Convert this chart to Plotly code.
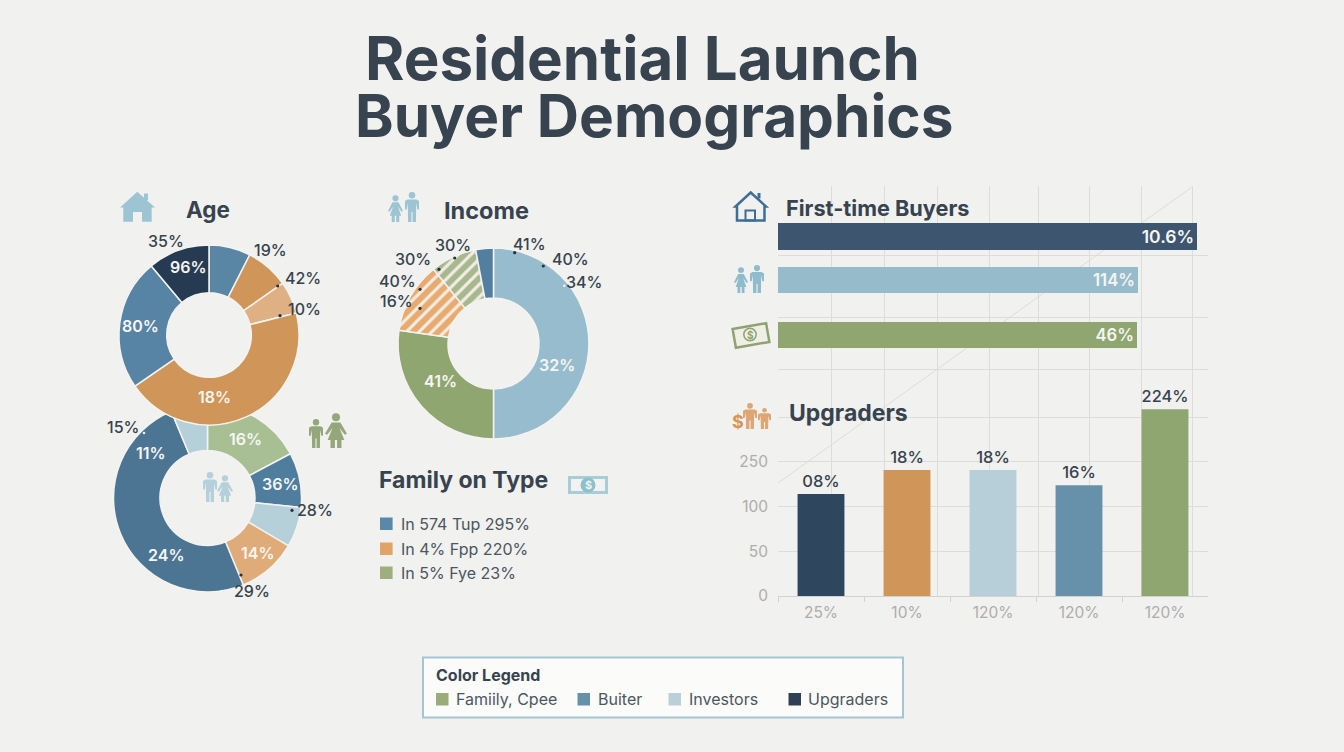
import math
import plotly.graph_objects as go

W, H = 1344, 752

# ---------- data ----------
title_lines = ["Residential Launch", "Buyer Demographics"]

age_shares = [7.5, 7.8, 5.8, 44.4, 23.6, 11.1]
family_shares = [17.2, 9.4, 6.9, 10.3, 49.9, 6.3]
income_shares = [50.0, 27.2, 12.0, 7.8, 3.0]

age_inside_labels = ["96%", "80%", "18%"]
age_outside_labels = ["35%", "19%", "42%", "10%"]
family_inside_labels = ["16%", "36%", "14%", "24%", "11%"]
family_outside_labels = ["15%", "28%", "29%"]
income_inside_labels = ["32%", "41%"]
income_outside_labels = ["41%", "40%", "34%", "30%", "30%", "40%", "16%"]

buyer_categories = ["First-time Buyers", "Family", "Income"]
buyer_values = [419, 360, 359]
buyer_labels = ["10.6%", "114%", "46%"]

upgrader_categories = ["A", "B", "C", "D", "E"]
upgrader_tick_labels = ["25%", "10%", "120%", "120%", "120%"]
upgrader_values = [114, 141, 141, 124, 209]
upgrader_labels = ["08%", "18%", "18%", "16%", "224%"]
y_tick_values = [0, 50, 100, 150, 200, 253, 312, 381]
y_tick_labels = ["0", "50", "100", "250", "", "", "", ""]

family_type_entries = ["In 574 Tup 295%", "In 4% Fpp 220%", "In 5% Fye 23%"]
legend_title = "Color Legend"
legend_entries = ["Famiily, Cpee", "Buiter", "Investors", "Upgraders"]

# ---------- style ----------
INK = "#37434e"
BG = "#f1f1ef"
BOLD = "Inter, Roboto, sans-serif"
BODY = "Inter, Roboto, sans-serif"
SLICE_LINE = "#f3f3f1"

fx = lambda p: p / W
fy = lambda p: 1 - p / H


def pie_domain(cx, cy, r):
    return dict(x=[fx(cx - r), fx(cx + r)], y=[fy(cy + r), fy(cy - r)])


fig = go.Figure()

# second (family) ring sits behind the age ring
fig.add_trace(go.Pie(
    values=family_shares, sort=False, direction="clockwise", rotation=0,
    hole=0.505, textinfo="none", showlegend=False, domain=pie_domain(207.5, 498, 94),
    marker=dict(colors=["#a8bf94", "#4f7d9e", "#b6d0da", "#dfab78", "#4c7594", "#b6d0da"],
                line=dict(color=SLICE_LINE, width=1.5)),
))
fig.add_trace(go.Pie(
    values=age_shares, sort=False, direction="clockwise", rotation=0,
    hole=0.47, textinfo="none", showlegend=False, domain=pie_domain(209, 335, 90),
    marker=dict(colors=["#5a86a5", "#cf9559", "#dfb083", "#cf9559", "#5784a4", "#263b52"],
                line=dict(color=SLICE_LINE, width=1.5)),
))
income_colors = ["#97bccd", "#90a671", "#e8aa6f", "#a7b88f", "#527f9f"]
fig.add_trace(go.Pie(
    values=income_shares, sort=False, direction="clockwise", rotation=0,
    hole=0.476, textinfo="none", showlegend=False, domain=pie_domain(493.5, 343.5, 95.5),
    marker=dict(colors=income_colors,
                line=dict(color=SLICE_LINE, width=1.5),
                pattern=dict(shape=["", "", "/", "/", ""], bgcolor=income_colors,
                             fgcolor=["#f3ece2"] * 5, size=9, solidity=0.36)),
))

# upgraders column chart
fig.add_trace(go.Bar(
    x=upgrader_categories, y=upgrader_values, text=upgrader_labels, width=0.545,
    textposition="outside", cliponaxis=False, textangle=0, showlegend=False,
    textfont=dict(family=BOLD, size=16.5, color=INK, weight=500),
    marker=dict(color=["#2f465f", "#cf9559", "#b7cfd8", "#6790ab", "#90a671"], line=dict(width=0)),
))
# empty trace gives the vertical grid axis its span over the whole panel
fig.add_trace(go.Scatter(x=[], y=[], xaxis="x2", yaxis="y", showlegend=False))

# buyer bars, one thin subplot each
buyer_colors = ["#3d556f", "#96bccc", "#90a671"]
for i, axis_id in enumerate(["y2", "y3", "y4"]):
    fig.add_trace(go.Bar(
        x=[buyer_values[i]], y=[buyer_categories[i]], orientation="h", width=1,
        text=[buyer_labels[i]], textposition="inside", insidetextanchor="end", textangle=0,
        textfont=dict(family=BOLD, size=17.5, color="#f5f5f2", weight=600),
        marker=dict(color=buyer_colors[i], line=dict(width=0)),
        xaxis="x3", yaxis=axis_id, showlegend=False,
    ))

plot_x = [fx(778), fx(1208)]
plot_y = [fy(596), fy(186)]
grid = "#dcdcda"
hidden = dict(visible=False, fixedrange=True)


def bar_axis(top, bottom):
    return dict(domain=[fy(bottom), fy(top)], anchor="x3", range=[-0.5, 0.5], **hidden)


fig.update_layout(
    width=W, height=H, margin=dict(l=0, r=0, t=0, b=0, pad=0, autoexpand=False), autosize=False,
    paper_bgcolor=BG, plot_bgcolor="rgba(0,0,0,0)", bargap=0.4,
    font=dict(family=BODY, color=INK),
    xaxis=dict(domain=plot_x, anchor="y", type="category", categoryorder="array",
               categoryarray=upgrader_categories, tickmode="array",
               tickvals=upgrader_categories, ticktext=upgrader_tick_labels, tickson="boundaries",
               ticks="outside", ticklen=5, tickcolor="#d2d2d0", showline=True, linecolor="#d2d2d0",
               showgrid=False, ticklabelstandoff=2, tickfont=dict(family=BODY, size=15.5, color="#adadab")),
    yaxis=dict(domain=plot_y, anchor="x", range=[0, 458.6], tickmode="array",
               tickvals=y_tick_values, ticktext=y_tick_labels, gridcolor=grid, zeroline=False,
               ticks="", ticklabelstandoff=9, tickfont=dict(family=BODY, size=15.5, color="#adadab")),
    xaxis2=dict(overlaying="x", anchor="y", range=[0, 430], tickmode="array",
                tickvals=[0, 53, 106, 159, 211, 260, 311, 363, 414],
                showticklabels=False, ticks="", gridcolor=grid, zeroline=False),
    xaxis3=dict(domain=plot_x, anchor="y2", range=[0, 430], **hidden),
    yaxis2=bar_axis(223, 250),
    yaxis3=bar_axis(267, 293),
    yaxis4=bar_axis(322, 348),
)

# ---------- decoration helpers ----------
shapes = []
annotations = []


def poly(points, fill=None, line=None, width=0, layer="above"):
    d = "M" + " L".join(f"{fx(x):.5f},{fy(y):.5f}" for x, y in points) + " Z"
    shapes.append(dict(type="path", xref="paper", yref="paper", path=d, layer=layer,
                       fillcolor=fill or "rgba(0,0,0,0)",
                       line=dict(color=line or "rgba(0,0,0,0)", width=width)))


def rect(x0, y0, x1, y1, fill, line=None, width=0, layer="above"):
    shapes.append(dict(type="rect", xref="paper", yref="paper", x0=fx(x0), x1=fx(x1),
                       y0=fy(y1), y1=fy(y0), fillcolor=fill, layer=layer,
                       line=dict(color=line or "rgba(0,0,0,0)", width=width)))


def dot(x, y, r, fill, line=None, width=0):
    shapes.append(dict(type="circle", xref="paper", yref="paper", x0=fx(x - r), x1=fx(x + r),
                       y0=fy(y + r), y1=fy(y - r), fillcolor=fill, layer="above",
                       line=dict(color=line or "rgba(0,0,0,0)", width=width)))


def text(x, y, s, size, color=INK, family=BOLD, weight=400, anchor="center"):
    annotations.append(dict(xref="paper", yref="paper", x=fx(x), y=fy(y), text=s, showarrow=False,
                            xanchor=anchor, yanchor="middle", borderpad=0,
                            font=dict(family=family, size=size, color=color, weight=weight)))


def man(x0, x1, top, bottom, color):
    w, h = x1 - x0, bottom - top
    cx = (x0 + x1) / 2
    dot(cx, top + h * 0.11, h * 0.11, color)
    s = top + h * 0.25
    poly([(x0 + w * .18, s), (x1 - w * .18, s), (x1, s + h * .05), (x1, s + h * .33),
          (x1 - w * .12, s + h * .33), (x1 - w * .2, s + h * .12), (x1 - w * .22, bottom),
          (cx + w * .04, bottom), (cx + w * .04, s + h * .42), (cx - w * .04, s + h * .42),
          (cx - w * .04, bottom), (x0 + w * .22, bottom), (x0 + w * .2, s + h * .12),
          (x0 + w * .12, s + h * .33), (x0, s + h * .33), (x0, s + h * .05)], fill=color)


def woman(x0, x1, top, bottom, color):
    w, h = x1 - x0, bottom - top
    cx = (x0 + x1) / 2
    dot(cx, top + h * 0.12, h * 0.115, color)
    s = top + h * 0.27
    poly([(cx - w * .2, s), (cx + w * .2, s), (x1, s + h * .32), (x1 - w * .1, s + h * .35),
          (cx + w * .16, s + h * .16), (x1 - w * .12, s + h * .5), (cx + w * .25, s + h * .5),
          (cx + w * .25, bottom), (cx + w * .05, bottom), (cx + w * .05, s + h * .5),
          (cx - w * .05, s + h * .5), (cx - w * .05, bottom), (cx - w * .25, bottom),
          (cx - w * .25, s + h * .5), (x0 + w * .12, s + h * .5), (cx - w * .16, s + h * .16),
          (x0 + w * .1, s + h * .35), (x0, s + h * .32)], fill=color)


def rotated(cx, cy, w, h, deg):
    a = math.radians(deg)
    pts = [(-w / 2, -h / 2), (w / 2, -h / 2), (w / 2, h / 2), (-w / 2, h / 2)]
    return [(cx + x * math.cos(a) - y * math.sin(a), cy + x * math.sin(a) + y * math.cos(a)) for x, y in pts]


# ---------- background line ----------
shapes.append(dict(type="line", xref="paper", yref="paper", x0=fx(778), y0=fy(483), x1=fx(1192), y1=fy(187),
                   layer="below", line=dict(color="#dddcd9", width=1)))

# ---------- titles ----------
text(642, 58, title_lines[0], 60, family=BOLD, weight=700)
text(654, 115, title_lines[1], 58.5, family=BOLD, weight=700)
text(208, 209, "Age", 22.5, weight=700)
text(486, 210, "Income", 23.5, weight=700)
text(378, 480, "Family on Type", 23, weight=700, anchor="left")
text(785, 208, "First-time Buyers", 21.7, weight=700, anchor="left")
text(788, 413, "Upgraders", 23, weight=700, anchor="left")

# ---------- ring labels ----------
inside_pos = {
    "age": [(188, 267), (140, 326), (215, 397)],
    "family": [(246, 439), (280, 484), (258, 553), (166, 555), (151, 453)],
    "income": [(557, 365), (440, 381)],
}
outside_pos = {
    "age": [(166, 241), (270, 250), (303, 278), (304, 309)],
    "family": [(123, 427), (315, 510), (252, 591)],
    "income": [(529, 244), (570, 259), (584, 282), (453, 245), (413, 259), (397, 281), (396, 301)],
}
for key, labels in [("age", age_inside_labels), ("family", family_inside_labels), ("income", income_inside_labels)]:
    for (x, y), s in zip(inside_pos[key], labels):
        text(x, y, s, 16, color="#f6f6f3", weight=600)
for key, labels in [("age", age_outside_labels), ("family", family_outside_labels), ("income", income_outside_labels)]:
    for (x, y), s in zip(outside_pos[key], labels):
        text(x, y, s, 16, color=INK, weight=500)

for x, y in [(277.7, 286), (280, 315.7), (292, 510.3), (241, 575), (514.7, 252.7), (543.3, 266),
             (454.7, 258), (439, 269.3), (420, 289.3), (420, 308.3)]:
    dot(x, y, 1.6, "#26323e")
for x, y in [(144, 433), (564.3, 285.7)]:
    dot(x, y, 1.3, "#f1f1ef")

# ---------- family list ----------
for s, y, c in zip(family_type_entries, [524, 549, 573], ["#5a88a8", "#e0a468", "#9eae7c"]):
    rect(380, y - 6.5, 392.6, y + 6, c)
    text(400, y, s, 16, color="#4b5661", family=BODY, anchor="left")

# ---------- colour legend ----------
rect(423, 657.5, 903, 717.5, "#fbfbfa", line="#a5c5d2", width=2)
text(435, 675, legend_title, 16, weight=700, anchor="left")
for s, sx, tx, c in zip(legend_entries, [436, 577.5, 668.5, 788.5], [455, 597, 688, 807],
                        ["#9aac79", "#6790ab", "#bccfd8", "#2f4054"]):
    rect(sx, 693, sx + 12.5, 705.5, c)
    text(tx, 699, s, 16, color="#4b5661", family=BODY, anchor="left")

# ---------- icons ----------
HOUSE = "#9cc4d2"
poly([(137.3, 191.7), (155, 207.5), (151.7, 207.5), (151.7, 221.7), (142, 221.7), (142, 212), (133, 212),
      (133, 221.7), (123.3, 221.7), (123.3, 207.5), (120, 207.5)], fill=HOUSE)
rect(144, 193.5, 148, 200, HOUSE)

STEEL = "#3f6e94"
poly([(750.7, 192.5), (766, 206.5), (764.5, 206.5), (764.5, 220.5), (737, 220.5), (737, 206.5), (735.5, 206.5)],
     line=STEEL, width=2.5)
rect(745.5, 210.5, 755, 220.5, "rgba(0,0,0,0)", line=STEEL, width=2)
rect(757.5, 193, 760.5, 198.5, STEEL)

woman(388, 403, 195, 222, "#9cc4d2")
man(405, 419, 192, 222, "#9cc4d2")
man(309, 323, 419, 448, "#94a67a")
woman(325, 347, 413, 448, "#94a67a")
man(203, 217, 472, 502, "#b4d0da")
woman(217, 233, 475, 502, "#b4d0da")
woman(734, 748, 267, 293, "#8fbccd")
man(750, 764, 265, 293, "#8fbccd")
man(743, 757, 403, 429, "#dda673")
man(758, 771, 408, 429, "#dda673")
text(737.5, 421, "$", 18, color="#d79557", weight=700)

# green banknote
poly(rotated(751, 335.5, 34, 19, -10), fill="#eef0e6", line="#8ea272", width=2.5)
dot(750, 334.5, 6.2, "#eef0e6", line="#8ea272", width=1.5)
text(750, 334.5, "$", 10, color="#8ea272", weight=700)

# blue banknote
rect(568, 476, 608, 494, "#a8cdd6")
rect(571, 479, 605, 491, "#f0f3f2")
dot(588, 485, 7.5, "#8fbfca")
text(588, 485, "$", 11, color="#f0f3f2", weight=700)

fig.update_layout(shapes=shapes, annotations=annotations)
fig.write_html("out.html", config=dict(displayModeBar=False),
               post_script="document.body.style.margin='0';document.documentElement.style.overflow='hidden';")
